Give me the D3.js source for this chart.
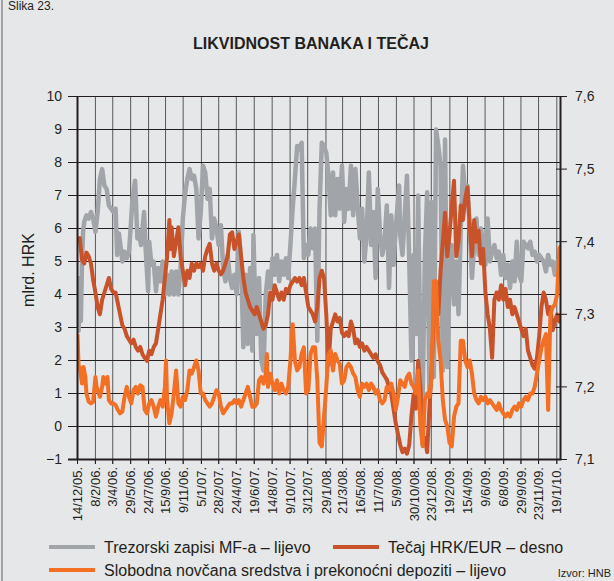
<!DOCTYPE html>
<html><head><meta charset="utf-8">
<script src="https://cdn.jsdelivr.net/npm/d3@7"></script>
<style>
body{margin:0;background:#e6e7e8}
svg{display:block}
text{font-family:"Liberation Sans",Arial,sans-serif;fill:#231f20}
</style>
</head><body>
<svg id="chart" width="614" height="581"></svg>
<script>
const figureLabel = "Slika 23.";
const title = "LIKVIDNOST BANAKA I TEČAJ";
const leftAxisTitle = "mlrd. HRK";
const source = "Izvor: HNB";
const xTickLabels = ["14/12/05.","8/2/06.","3/4/06.","29/5/06.","24/7/06.","15/9/06.","9/11/06.","5/1/07.","28/2/07.","24/4/07.","19/6/07.","14/8/07.","9/10/07.","3/12/07.","29/1/08.","21/3/08.","16/5/08.","11/7/08.","5/9/08.","30/10/08.","23/12/08.","19/2/09.","15/4/09.","9/6/09.","6/8/09.","29/9/09.","23/11/09.","19/1/10."];
const leftTicks = [-1,0,1,2,3,4,5,6,7,8,9,10];
const rightTicks = [7.1,7.2,7.3,7.4,7.5,7.6];
const seriesNames = ["Trezorski zapisi MF-a – lijevo","Tečaj HRK/EUR – desno","Slobodna novčana sredstva i prekonoćni depoziti – lijevo"];

// [week since 14/12/05, value]
const trezorski = [[0,3.0],[0.5,2.9],[1,4.5],[1.5,3.2],[2,5.0],[2.5,5.9],[3,6.2],[4,6.4],[5,6.3],[6,6.5],[7,6.3],[8,5.9],[9,6.5],[10,7.5],[11,7.8],[12,7.3],[13,7.2],[14,6.7],[15,6.6],[16,6.5],[17,6.6],[17.7,5.2],[18.5,5.85],[19.5,5.3],[20,5.0],[21,5.3],[22,5.1],[23,5.3],[23.7,6.0],[24.5,6.9],[25.7,7.45],[26.7,5.7],[27.5,5.9],[28.3,5.5],[29.7,6.5],[30.4,5.4],[31.5,4.1],[32,5.6],[33,4.9],[34,5.0],[35,4.1],[36,4.8],[37,4.4],[38,5.0],[39,4.0],[40,4.6],[41,4.0],[42,4.7],[43,4.0],[44,4.7],[45,4.0],[46,4.8],[47,6.3],[48,7.05],[49,7.5],[50,7.8],[51,7.5],[52,7.6],[53,7.2],[54,5.7],[55,6.5],[56,7.9],[57,7.7],[58,6.9],[59,7.2],[60,5.7],[61,6.3],[62,6.0],[63,5.5],[64,6.1],[65,4.8],[66,4.4],[67,5.2],[68,4.5],[69,4.2],[70,4.6],[71,4.0],[72,5.9],[73,4.9],[74,2.4],[75,4.6],[76,2.5],[77,4.8],[78,2.3],[78.5,5.8],[79,4.5],[80,2.8],[81,4.5],[82,2.0],[83,1.7],[84,4.0],[85,4.7],[86,4.2],[87,5.1],[88,4.6],[89,5.2],[90,4.4],[91,5.0],[92,4.6],[93,5.1],[94,4.5],[95,5.5],[96,6.6],[97,7.5],[98,8.5],[99,8.4],[100,8.6],[101,5.1],[102,5.5],[103,5.2],[104,6.0],[105,5.4],[106,6.0],[107,2.6],[108,6.6],[109,8.6],[110,8.5],[111,8.3],[112,7.6],[113,6.4],[114,7.7],[115,6.4],[116,7.5],[117,6.6],[118,7.9],[119,6.2],[120,7.2],[121,6.6],[122,7.9],[123,6.4],[124,7.8],[125,6.7],[126,5.7],[127,6.6],[128,5.0],[129,5.8],[130,7.7],[131,5.5],[132,6.5],[133,4.5],[134,7.2],[135,5.8],[136,5.2],[137,5.6],[138,6.7],[139,4.2],[140,6.4],[141,4.9],[142,6.0],[143.5,7.3],[144,5.8],[145,5.2],[146,6.4],[147,7.6],[148,5.1],[149,2.0],[150,5.2],[151,2.8],[152,7.0],[153,2.0],[154,0.8],[155,5.2],[156,7.1],[157,1.0],[158,6.8],[159,1.5],[160,9.0],[161,8.5],[162,7.9],[163,1.7],[164,8.7],[165,1.8],[166,4.5],[167,5.5],[168,3.7],[169,5.0],[170,3.4],[171,6.0],[172,7.9],[173,7.0],[174,7.3],[175,6.0],[176,4.5],[177,5.5],[178,6.3],[179,5.2],[180,6.0],[181,5.5],[182,4.9],[183,6.3],[184,5.0],[185,5.3],[186,5.5],[187,5.1],[188,5.3],[189,4.6],[190,5.2],[191,4.5],[192,4.9],[193,4.2],[194,5.0],[195,4.4],[196,5.6],[197,4.6],[198,4.4],[199,5.6],[200,5.5],[201,5.4],[202,5.6],[203,5.2],[204,5.3],[205,5.0],[206,5.2],[207,5.1],[208,5.0],[209,4.7],[210,5.2],[211,4.9],[212,5.0],[213,4.6],[214,5.0],[215,4.6],[216,5.0],[217,4.8],[218,4.9]];

const tecaj = [[0,7.40],[1,7.405],[2,7.375],[3,7.37],[4,7.385],[5,7.38],[6,7.37],[7,7.347],[8,7.33],[9,7.31],[10,7.30],[11,7.32],[12,7.33],[13,7.34],[14,7.35],[15,7.335],[16,7.33],[17,7.33],[18,7.315],[19,7.30],[20,7.285],[21,7.28],[22,7.27],[23,7.265],[24,7.26],[25,7.265],[26,7.255],[27,7.25],[28,7.255],[29,7.245],[30,7.24],[31,7.236],[32,7.25],[33,7.245],[34,7.255],[35,7.26],[36,7.28],[37,7.30],[38,7.32],[39,7.35],[40,7.38],[41,7.43],[41.5,7.39],[42,7.42],[43,7.38],[44,7.40],[45,7.42],[46,7.38],[47,7.36],[48,7.34],[49,7.36],[50,7.35],[51,7.37],[52,7.36],[53,7.37],[54,7.365],[55,7.37],[56,7.36],[57,7.38],[58,7.39],[59,7.397],[60,7.37],[61,7.36],[62,7.37],[63,7.36],[64,7.355],[65,7.36],[66,7.37],[67,7.38],[68,7.41],[69,7.413],[70,7.39],[71,7.40],[72,7.41],[73,7.38],[74,7.35],[75,7.33],[76,7.32],[77,7.31],[78,7.305],[79,7.30],[80,7.31],[81,7.30],[82,7.29],[83,7.28],[84,7.285],[85,7.30],[86,7.33],[87,7.32],[88,7.34],[89,7.33],[90,7.32],[91,7.33],[92,7.32],[93,7.335],[94,7.33],[95,7.34],[96,7.345],[97,7.35],[98,7.345],[99,7.35],[100,7.34],[101,7.35],[102,7.33],[103,7.31],[104,7.305],[105,7.30],[106,7.29],[107,7.31],[108,7.35],[109,7.36],[110,7.35],[111,7.30],[112,7.23],[113,7.28],[114,7.29],[115,7.30],[116,7.29],[117,7.295],[118,7.275],[119,7.27],[120,7.275],[121,7.27],[122,7.29],[123,7.28],[124,7.26],[125,7.265],[126,7.255],[127,7.26],[128,7.25],[129,7.255],[130,7.25],[131,7.245],[132,7.24],[133,7.245],[134,7.235],[135,7.23],[136,7.22],[137,7.215],[138,7.21],[139,7.20],[140,7.19],[141,7.17],[142,7.15],[143,7.135],[144,7.12],[145,7.11],[146,7.115],[147,7.108],[148,7.12],[149,7.16],[150,7.19],[151,7.17],[152,7.236],[153,7.20],[154,7.12],[155,7.13],[156,7.11],[157,7.17],[158,7.22],[159,7.30],[160,7.32],[161,7.30],[162,7.36],[163,7.40],[164,7.44],[165,7.38],[166,7.41],[167,7.45],[168,7.484],[169,7.38],[170,7.40],[171,7.45],[172,7.43],[173,7.46],[174,7.475],[175,7.42],[176,7.38],[177,7.43],[178,7.40],[179,7.415],[180,7.37],[181,7.39],[182,7.33],[183,7.30],[184,7.28],[185,7.24],[186,7.32],[187,7.33],[188,7.32],[189,7.34],[190,7.32],[191,7.335],[192,7.31],[193,7.32],[194,7.30],[195,7.31],[196,7.30],[197,7.29],[198,7.28],[199,7.27],[200,7.28],[201,7.25],[202,7.24],[203,7.23],[204,7.225],[205,7.24],[206,7.27],[207,7.31],[208,7.33],[209,7.32],[210,7.30],[211,7.31],[212,7.278],[213,7.29],[214,7.30],[215,7.29],[216,7.30],[217,7.31],[218,7.30]];

const slobodna = [[0,2.8],[0.5,1.8],[1,1.8],[2,1.3],[2.7,1.8],[3.5,1.5],[4,1.0],[5,0.75],[6,0.7],[7,0.75],[8,1.5],[8.5,1.2],[9,1.1],[10,0.9],[11,1.2],[11.5,1.5],[12.5,1.3],[13.4,1.5],[14,0.8],[15,0.7],[16,0.7],[17,0.65],[18,0.5],[19,0.4],[20,0.45],[21,0.9],[22,1.2],[23,0.9],[24,0.7],[25,1.1],[26,1.2],[27,1.0],[28,1.25],[29,1.2],[30,0.5],[31,0.4],[32,0.7],[33,0.8],[34,0.6],[35,0.3],[36,0.6],[37,0.8],[38,0.6],[39,1.2],[39.5,2.0],[40,0.8],[41,0.1],[42,0.4],[43,1.0],[44,1.7],[45,0.7],[46,0.6],[47,0.9],[48,0.8],[49,1.1],[50,1.7],[51,1.6],[52,1.8],[53,2.0],[54,1.7],[55,1.0],[56,1.0],[57,0.8],[58,0.7],[59,0.6],[60,0.7],[61,0.9],[62,1.1],[63,1.0],[64,0.6],[65,0.4],[66,0.5],[67,0.6],[68,0.7],[69,0.7],[70,0.8],[71,0.7],[72,0.8],[73,0.6],[74,0.8],[75,1.0],[76,1.2],[77,0.9],[78,0.6],[79,0.6],[80,0.7],[81,1.4],[82,1.5],[83,1.3],[84,1.6],[84.5,2.2],[85,1.2],[86,1.6],[87,1.3],[88,1.1],[89,1.4],[90,1.0],[91,1.3],[92,1.1],[93,1.0],[94,1.2],[95,2.0],[96,3.1],[97,2.0],[98,1.7],[99,1.8],[100,2.2],[101,2.4],[102,1.0],[103,1.1],[104,2.2],[105,2.4],[106,2.4],[107,1.4],[108,-0.5],[109,-0.6],[110,0.3],[111,1.2],[112,2.2],[113,2.3],[114,1.7],[115,2.2],[116,2.0],[117,1.9],[118,1.3],[119,1.4],[120,1.8],[121,1.9],[122,1.8],[123,1.6],[124,1.5],[125,1.1],[126,0.9],[127,1.3],[128,1.2],[129,1.3],[130,1.1],[131,1.3],[132,1.2],[133,1.0],[134,1.1],[135,0.8],[136,0.7],[137,0.8],[138,1.2],[139,1.1],[140,1.3],[141,1.0],[142,0.5],[143,0.9],[144,1.4],[145,1.3],[146,1.2],[147,1.5],[148,1.6],[149,1.3],[150,1.2],[151,1.0],[152,1.7],[153,0.0],[154,-0.6],[155,0.8],[156,1.0],[157,0.9],[158,1.5],[159,4.4],[160,4.4],[161,2.6],[162,2.0],[163,0.8],[164,0.2],[165,0.0],[166,-0.5],[167,-0.6],[168,0.3],[169,0.6],[170,0.7],[171,2.6],[172,2.6],[173,2.0],[174,1.8],[175,2.0],[176,1.6],[177,1.0],[178,0.8],[179,0.7],[180,0.9],[181,0.8],[182,0.9],[183,0.7],[184,0.8],[185,0.7],[186,0.6],[187,0.5],[188,0.7],[189,0.5],[190,0.4],[191,0.3],[192,0.4],[193,0.3],[194,0.5],[195,0.6],[196,0.5],[197,0.7],[198,0.6],[199,0.8],[200,0.9],[201,0.8],[202,1.0],[203,1.0],[204,1.2],[205,1.6],[206,2.0],[207,2.4],[208,2.6],[209,2.8],[210,0.5],[211,3.4],[212,3.6],[213,3.7],[214,4.0],[215,5.4],[216,5.5],[217,5.7],[218,5.8]];

const colors = {gray:"#a1a5a9", rust:"#c8532a", orange:"#f36f24", ink:"#231f20"};

const svg = d3.select("#chart");
svg.append("rect").attr("width",614).attr("height",581).attr("fill","#e6e7e8");
svg.append("line").attr("x1",2).attr("x2",2).attr("y1",0).attr("y2",581).attr("stroke","#8a8b8d").attr("stroke-width",1.5);

const parse = d3.timeParse("%d/%m/%y.");
const tickDates = xTickLabels.map(parse);
const t0 = tickDates[0];
const toDate = w => new Date(t0.getTime() + w*7*864e5);

const plotLeft = 77.5, plotRight = 560.5, plotTop = 96, plotBottom = 459;
const x = d3.scaleTime().domain([t0, tickDates[tickDates.length-1]]).range([77.5, 556.8]);
const yL = d3.scaleLinear().domain([-1,10]).range([459.5, 96.5]);
const yR = d3.scaleLinear().domain([7.1,7.6]).range([459.5, 96.5]);

// grid
const g = svg.append("g");
g.selectAll(".vg").data(tickDates.slice(1)).join("line")
  .attr("x1",d=>x(d)).attr("x2",d=>x(d)).attr("y1",plotTop).attr("y2",plotBottom+5)
  .attr("stroke","#58595b").attr("stroke-width",1);
g.selectAll(".hg").data(leftTicks.filter(v=>v>-1)).join("line")
  .attr("x1",68).attr("x2",plotRight).attr("y1",d=>yL(d)).attr("y2",d=>yL(d))
  .attr("stroke",colors.ink).attr("stroke-width",1);

// series
const line = (yScale) => d3.line().x(d=>x(toDate(d[0]))).y(d=>yScale(d[1])).curve(d3.curveLinear);
const clip = svg.append("clipPath").attr("id","pc").append("rect")
  .attr("x",plotLeft).attr("y",plotTop-4).attr("width",plotRight-plotLeft).attr("height",plotBottom-plotTop+4);
const sg = svg.append("g").attr("clip-path","url(#pc)");
sg.append("path").datum(trezorski).attr("d",line(yL)).attr("fill","none").attr("stroke",colors.gray).attr("stroke-width",4.5).attr("stroke-linejoin","round");
sg.append("path").datum(tecaj).attr("d",line(yR)).attr("fill","none").attr("stroke",colors.rust).attr("stroke-width",4).attr("stroke-linejoin","round");
sg.append("path").datum(slobodna).attr("d",line(yL)).attr("fill","none").attr("stroke",colors.orange).attr("stroke-width",4).attr("stroke-linejoin","round");

// axes lines
svg.append("line").attr("x1",plotLeft).attr("x2",plotLeft).attr("y1",plotTop).attr("y2",plotBottom+1).attr("stroke",colors.ink).attr("stroke-width",2);
svg.append("line").attr("x1",plotRight).attr("x2",plotRight).attr("y1",plotTop).attr("y2",plotBottom+1).attr("stroke",colors.ink).attr("stroke-width",2);
svg.append("line").attr("x1",68).attr("x2",plotRight+1).attr("y1",yL(-1)).attr("y2",yL(-1)).attr("stroke",colors.ink).attr("stroke-width",2);

// left axis
const la = svg.append("g");
la.selectAll("line").data(leftTicks).join("line").attr("x1",68).attr("x2",plotLeft).attr("y1",d=>yL(d)).attr("y2",d=>yL(d)).attr("stroke",colors.ink);
la.selectAll("text").data(leftTicks).join("text").attr("x",62).attr("y",d=>yL(d)).attr("dy","0.35em")
  .attr("text-anchor","end").attr("font-size",14).text(d=>d<0?"\u2212"+Math.abs(d):d);

// right axis
const ra = svg.append("g");
ra.selectAll("line").data(rightTicks).join("line").attr("x1",556).attr("x2",567).attr("y1",d=>yR(d)).attr("y2",d=>yR(d)).attr("stroke",colors.ink);
ra.selectAll("text").data(rightTicks).join("text").attr("x",575).attr("y",d=>yR(d)).attr("dy","0.35em")
  .attr("text-anchor","start").attr("font-size",14).text(d=>d.toFixed(1).replace(".",","));

// x axis labels
const xa = svg.append("g");
xa.selectAll("line").data(tickDates).join("line").attr("x1",d=>x(d)).attr("x2",d=>x(d)).attr("y1",plotBottom).attr("y2",plotBottom+5).attr("stroke",colors.ink);
xa.selectAll("text").data(xTickLabels).join("text")
  .attr("transform",(d,i)=>`translate(${x(tickDates[i])},467) rotate(-90)`)
  .attr("dy","0.35em").attr("text-anchor","end").attr("font-size",13).text(d=>d);

// titles
svg.append("text").attr("x",8).attr("y",10).attr("font-size",12).text(figureLabel);
svg.append("text").attr("x",311).attr("y",49).attr("text-anchor","middle").attr("font-size",16).attr("font-weight","bold").text(title);
svg.append("text").attr("transform","translate(34,270) rotate(-90)").attr("text-anchor","middle").attr("font-size",16).text(leftAxisTitle);

// legend
const legend = [
  {name:seriesNames[0], color:colors.gray, x:49, y:547},
  {name:seriesNames[1], color:colors.rust, x:333, y:547},
  {name:seriesNames[2], color:colors.orange, x:49, y:570}
];
const lg = svg.append("g");
legend.forEach(it=>{
  lg.append("line").attr("x1",it.x).attr("x2",it.x+46).attr("y1",it.y).attr("y2",it.y).attr("stroke",it.color).attr("stroke-width",4);
  lg.append("text").attr("x",it.x+55).attr("y",it.y).attr("dy","0.35em").attr("font-size",16).text(it.name);
});
svg.append("text").attr("x",611).attr("y",577).attr("text-anchor","end").attr("font-size",11).text(source);
</script>
</body></html>
